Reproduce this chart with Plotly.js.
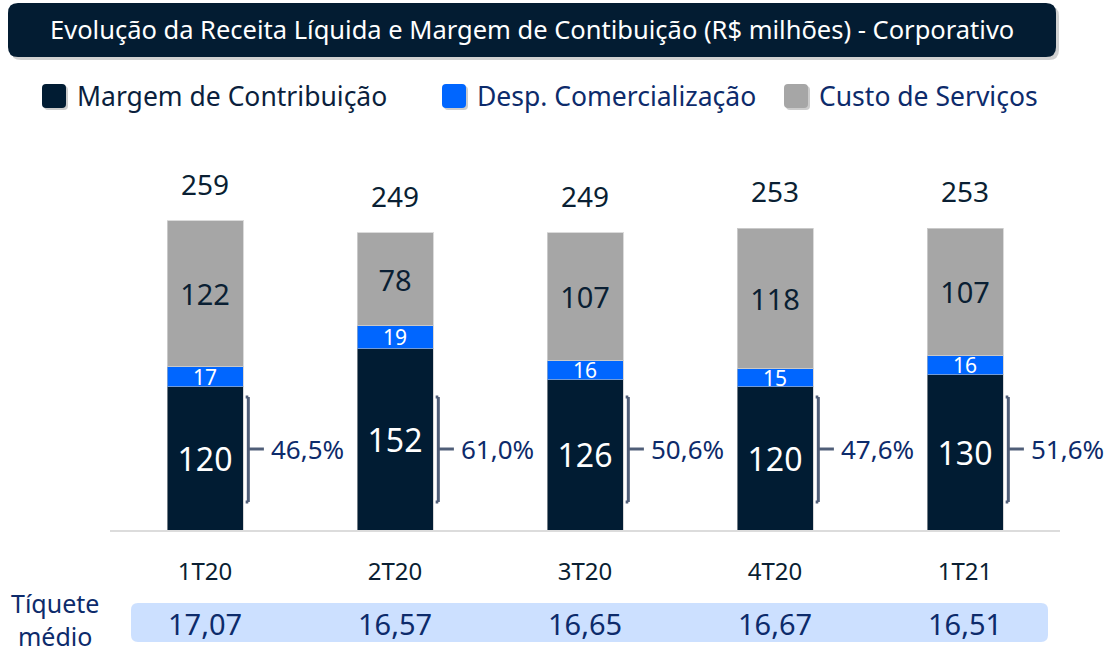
<!DOCTYPE html>
<html>
<head>
<meta charset="utf-8">
<script src="https://cdn.plot.ly/plotly-3.0.1.min.js"></script>
<style>html,body{margin:0;padding:0;background:#fff;}</style>
</head>
<body>
<div id="chart" style="width:1116px;height:652px;"></div>
<script>
// ---- data ----
const categories = ['1T20', '2T20', '3T20', '4T20', '1T21'];
const margemContribuicao = [120, 152, 126, 120, 130];
const despComercializacao = [17, 19, 16, 15, 16];
const custoServicos = [122, 78, 107, 118, 107];
const totals = [259, 249, 249, 253, 253];
const margemPct = [46.5, 61.0, 50.6, 47.6, 51.6];
const tiqueteMedio = [17.07, 16.57, 16.65, 16.67, 16.51];
const seriesNames = ['Margem de Contribuição', 'Desp. Comercialização', 'Custo de Serviços'];
const titleText = 'Evolução da Receita Líquida e Margem de Contibuição (R$ milhões) - Corporativo';

// ---- style ----
const FONT = 'Noto Sans, Open Sans, sans-serif';
const DARK = '#011c33';
const BLUE = '#0066ff';
const GRAY = '#a6a6a6';
const NAVY = '#0d2b6b';
const INK = '#0a1f33';

const W = 1116, H = 652;
const M = {l: 110, r: 56, t: 150, b: 122};
const PW = W - M.l - M.r, PH = H - M.t - M.b;
const px = x => (x - M.l) / PW;
const py = y => (H - M.b - y) / PH;
const YMAX = 318.5;
const yv = y => (H - M.b - y) / PH * YMAX; // pixel -> data value

function rrect(x0, y0, x1, y1, r, color, extra) {
  const X0 = px(x0), X1 = px(x1), Y0 = py(y0), Y1 = py(y1);
  const rx = r / PW, ry = r / PH;
  const path = `M${X0 + rx},${Y0} L${X1 - rx},${Y0} Q${X1},${Y0} ${X1},${Y0 - ry} ` +
    `L${X1},${Y1 + ry} Q${X1},${Y1} ${X1 - rx},${Y1} L${X0 + rx},${Y1} Q${X0},${Y1} ${X0},${Y1 + ry} ` +
    `L${X0},${Y0 - ry} Q${X0},${Y0} ${X0 + rx},${Y0} Z`;
  return Object.assign({type: 'path', xref: 'paper', yref: 'paper', path: path,
    fillcolor: color, line: {width: 0}, layer: 'above'}, extra || {});
}

const fmt = (v, d) => v.toFixed(d).replace('.', ',');

const barCommon = {
  type: 'bar', x: categories, texttemplate: '%{y}', textposition: 'inside',
  insidetextanchor: 'middle', constraintext: 'none', textangle: 0,
  hoverinfo: 'skip', showlegend: false,
};
const traces = [
  Object.assign({}, barCommon, {name: seriesNames[0], y: margemContribuicao,
    marker: {color: DARK, line: {color: 'rgba(190,190,190,0.6)', width: 1}},
    textfont: {family: FONT, size: 32, color: '#ffffff'}}),
  Object.assign({}, barCommon, {name: seriesNames[1], y: despComercializacao,
    marker: {color: BLUE, line: {color: 'rgba(190,190,190,0.6)', width: 1}},
    textfont: {family: FONT, size: 21, color: '#ffffff'}}),
  Object.assign({}, barCommon, {name: seriesNames[2], y: custoServicos,
    marker: {color: GRAY, line: {color: 'rgba(210,210,210,0.8)', width: 1}},
    textfont: {family: FONT, size: 29, color: INK}}),
];

const shapes = [];
const annotations = [];

// title box
shapes.push(rrect(11, 6, 1059, 60, 10, 'rgba(0,0,0,0.18)'));
shapes.push(rrect(8, 3, 1056, 57, 10, '#031c32'));
annotations.push({xref: 'paper', yref: 'paper', x: px(532), y: py(29), text: titleText,
  showarrow: false, xanchor: 'center', yanchor: 'middle',
  font: {family: FONT, size: 25.5, color: '#ffffff'}});

// legend
const legColors = [DARK, BLUE, GRAY];
const legX = [42, 442, 784];
const legTextColors = ['#0b1f3d', NAVY, NAVY];
for (let k = 0; k < 3; k++) {
  shapes.push(rrect(legX[k] + 2, 86, legX[k] + 26, 110, 4, 'rgba(0,0,0,0.2)'));
  shapes.push(rrect(legX[k], 84, legX[k] + 24, 108, 4, legColors[k]));
  annotations.push({xref: 'paper', yref: 'paper', x: px(legX[k] + 33), y: py(96),
    text: seriesNames[k], showarrow: false, xanchor: 'left', yanchor: 'middle',
    font: {family: FONT, size: 26.5, color: legTextColors[k]}});
}

// totals, brackets, percentages
const bTop = yv(397), bBot = yv(502), bMid = yv(449);
const BR = '#505e78';
categories.forEach((c, i) => {
  annotations.push({xref: 'x', yref: 'y', x: i, y: totals[i], text: String(totals[i]),
    showarrow: false, xanchor: 'center', yanchor: 'bottom', yshift: 16,
    font: {family: FONT, size: 28, color: INK}});
  const xv = i + 0.228, xe = i + 0.214, xm = i + 0.31;
  const ln = {color: BR, width: 3};
  shapes.push({type: 'line', xref: 'x', yref: 'y', x0: xv, x1: xv, y0: bBot, y1: bTop, line: ln});
  shapes.push({type: 'line', xref: 'x', yref: 'y', x0: xe, x1: xv, y0: bTop, y1: bTop, line: ln});
  shapes.push({type: 'line', xref: 'x', yref: 'y', x0: xe, x1: xv, y0: bBot, y1: bBot, line: ln});
  shapes.push({type: 'line', xref: 'x', yref: 'y', x0: xv, x1: xm, y0: bMid, y1: bMid, line: ln});
  annotations.push({xref: 'x', yref: 'y', x: i + 0.335, y: bMid, text: fmt(margemPct[i], 1) + '%',
    showarrow: false, xanchor: 'left', yanchor: 'middle',
    font: {family: FONT, size: 26, color: NAVY}});
  annotations.push({xref: 'x', yref: 'paper', x: i, y: py(623), text: fmt(tiqueteMedio[i], 2),
    showarrow: false, xanchor: 'center', yanchor: 'middle',
    font: {family: FONT, size: 29, color: NAVY}});
});

// tiquete medio row
shapes.push(Object.assign(rrect(131, 603, 1048, 642, 7, '#cce0ff'), {layer: 'below'}));
annotations.push({xref: 'paper', yref: 'paper', x: px(55), y: py(619), text: 'Tíquete<br>médio',
  showarrow: false, xanchor: 'center', yanchor: 'middle', align: 'center',
  font: {family: FONT, size: 25, color: NAVY}});

const layout = {
  width: W, height: H, margin: M,
  paper_bgcolor: '#ffffff', plot_bgcolor: '#ffffff',
  barmode: 'stack', bargap: 0.6,
  font: {family: FONT, color: INK},
  xaxis: {type: 'category', range: [-0.5, categories.length - 0.5], autorange: false,
    showline: true, linecolor: '#dcdcdc', linewidth: 2,
    ticks: '', showgrid: false, zeroline: false, ticklabelstandoff: 19,
    tickfont: {family: FONT, size: 24, color: INK}, fixedrange: true},
  yaxis: {range: [0, YMAX], autorange: false, visible: false, showgrid: false, zeroline: false, fixedrange: true},
  shapes: shapes, annotations: annotations, showlegend: false,
};

Plotly.newPlot('chart', traces, layout, {displayModeBar: false, staticPlot: true});
</script>
</body>
</html>
